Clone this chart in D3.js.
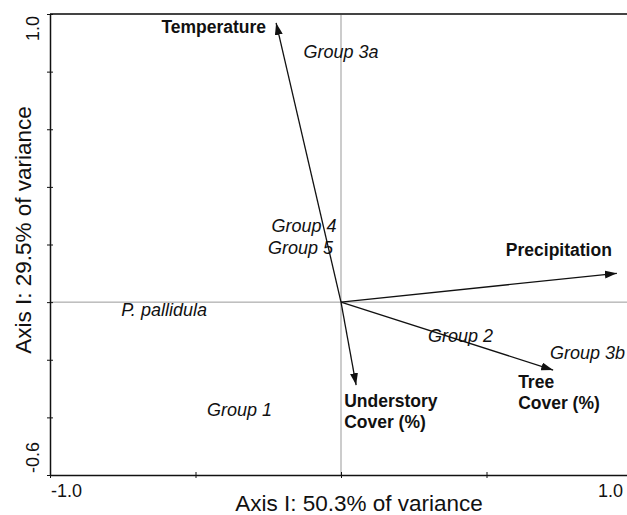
<!DOCTYPE html>
<html>
<head>
<meta charset="utf-8">
<script src="https://cdn.jsdelivr.net/npm/d3@7"></script>
<style>
  body { margin: 0; background: #fff; }
  svg { display: block; overflow: hidden; }
  text { font-family: "Liberation Sans", Arial, sans-serif; fill: #111; }
</style>
</head>
<body>
<svg id="chart" width="627" height="515"></svg>
<script>
// ordination scores
const groups = ['Group 3a', 'Group 4', 'Group 5', 'P. pallidula', 'Group 1', 'Group 2', 'Group 3b'];
const group_x = [0.0, -0.127, -0.139, -0.608, -0.349, 0.411, 0.847];
const group_y = [0.847, 0.243, 0.167, -0.049, -0.396, -0.139, -0.198];

const vectors = ['Temperature', 'Precipitation', 'Understory\nCover (%)', 'Tree\nCover (%)'];
const vector_x = [-0.223, 0.948, 0.052, 0.729];
const vector_y = [0.969, 0.10, -0.288, -0.236];

const x_ticks = [-1, -0.5, 0, 0.5, 1];
const y_ticks = [-0.6, -0.4, -0.2, 0, 0.2, 0.4, 0.6, 0.8, 1.0];
const x_title = 'Axis I: 50.3% of variance';
const y_title = 'Axis I: 29.5% of variance';

const plot_left = 50, plot_top = 14, plot_bottom = 475;

const x = d3.scaleLinear().domain([-1, 1]).range([plot_left, 632]);
const y = d3.scaleLinear().domain([-0.6, 1.0]).range([plot_bottom, plot_top]);

const svg = d3.select('#chart');

svg.append('defs').append('marker')
    .attr('id', 'head')
    .attr('viewBox', '0 0 12 8')
    .attr('refX', 12).attr('refY', 4)
    .attr('markerWidth', 12).attr('markerHeight', 8)
    .attr('markerUnits', 'userSpaceOnUse')
    .attr('orient', 'auto')
    .append('path').attr('d', 'M0,0 L12,4 L0,8 Z').attr('fill', '#111');

// zero lines
svg.append('line')
    .attr('x1', x(0)).attr('x2', x(0)).attr('y1', plot_top).attr('y2', plot_bottom)
    .style('stroke', '#999').style('stroke-width', 1);
svg.append('line')
    .attr('x1', plot_left).attr('x2', 627).attr('y1', y(0)).attr('y2', y(0))
    .style('stroke', '#999').style('stroke-width', 1);

// top frame
svg.append('line')
    .attr('x1', plot_left).attr('x2', 627).attr('y1', plot_top).attr('y2', plot_top)
    .style('stroke', '#444').style('stroke-width', 2);

// axes
const xAxis = svg.append('g')
    .attr('transform', `translate(0, ${plot_bottom})`)
    .call(d3.axisBottom(x).tickValues(x_ticks).tickSize(3).tickSizeOuter(0).tickFormat(''));
const yAxis = svg.append('g')
    .attr('transform', `translate(${plot_left}, 0)`)
    .call(d3.axisLeft(y).tickValues(y_ticks).tickSize(3).tickSizeOuter(0).tickFormat(''));
[xAxis, yAxis].forEach(a => {
    a.select('.domain').style('stroke', '#111').style('stroke-width', 1.5);
    a.selectAll('.tick line').style('stroke', '#111').style('stroke-width', 1);
});
xAxis.selectAll('.tick line').attr('y1', -3);
yAxis.selectAll('.tick line').attr('x1', 3);

// tick labels only at the ends
svg.append('text').text('-1.0').attr('x', x(-1) + 1).attr('y', 497)
    .attr('text-anchor', 'start').style('font-size', '18px');
svg.append('text').text('1.0').attr('x', 623).attr('y', 497)
    .attr('text-anchor', 'end').style('font-size', '18px');
svg.append('text').text('1.0')
    .attr('transform', `translate(39, ${y(1.0) + 2}) rotate(-90)`)
    .attr('text-anchor', 'end').style('font-size', '18px');
svg.append('text').text('-0.6')
    .attr('transform', `translate(39, ${y(-0.6) - 2}) rotate(-90)`)
    .attr('text-anchor', 'start').style('font-size', '18px');

// axis titles
svg.append('text').text(x_title).attr('x', 359).attr('y', 511)
    .attr('text-anchor', 'middle').style('font-size', '22.5px');
svg.append('text').text(y_title)
    .attr('transform', `translate(31, 230) rotate(-90)`)
    .attr('text-anchor', 'middle').style('font-size', '22.5px');

// environmental vectors
vectors.forEach((v, i) => {
    svg.append('line')
        .attr('x1', x(0)).attr('y1', y(0))
        .attr('x2', x(vector_x[i])).attr('y2', y(vector_y[i]))
        .style('stroke', '#111').style('stroke-width', 1.3)
        .attr('marker-end', 'url(#head)');
});

// vector labels (offset from arrow tips)
const label_dx = [-10, -5, -12, -35];
const label_dy = [10, -17, 22, 18];
const label_anchor = ['end', 'end', 'start', 'start'];
vectors.forEach((v, i) => {
    const t = svg.append('text')
        .attr('x', x(vector_x[i]) + label_dx[i])
        .attr('y', y(vector_y[i]) + label_dy[i])
        .attr('text-anchor', label_anchor[i])
        .style('font-size', '17.5px').style('font-weight', 'bold');
    v.split('\n').forEach((line, j) => {
        t.append('tspan')
            .attr('x', x(vector_x[i]) + label_dx[i])
            .attr('dy', j === 0 ? 0 : 21)
            .text(line);
    });
});

// group centroids
groups.forEach((g, i) => {
    svg.append('text').text(g)
        .attr('x', x(group_x[i])).attr('y', y(group_y[i]))
        .attr('text-anchor', 'middle')
        .style('font-size', '18px').style('font-style', 'italic');
});
</script>
</body>
</html>
